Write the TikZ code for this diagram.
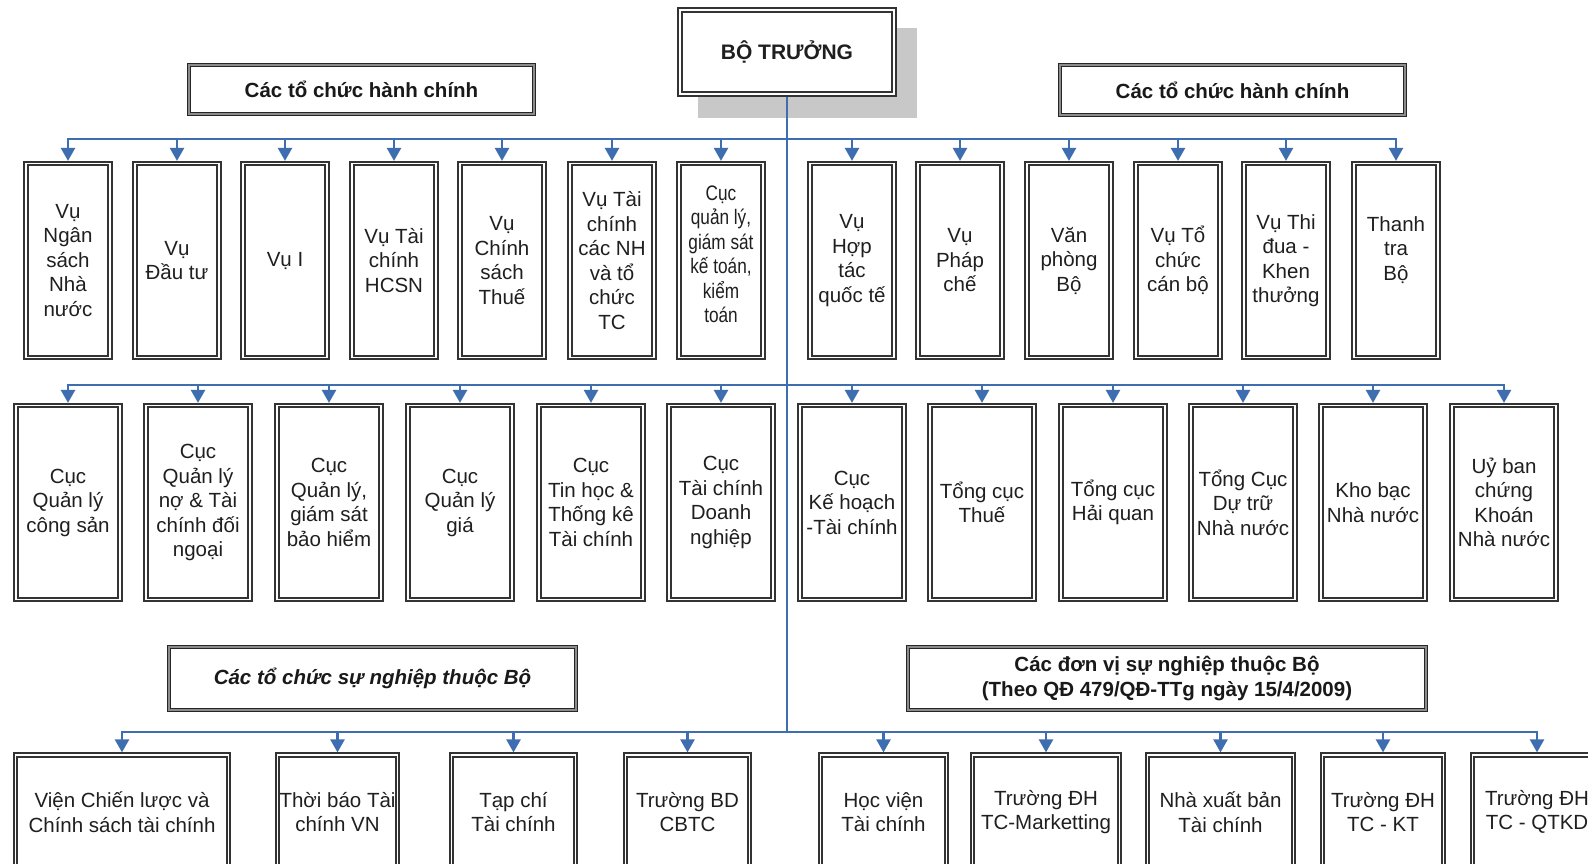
\documentclass[tikz,border=0pt]{standalone}
\usepackage{fontspec}
\setmainfont{Liberation Sans}
\newfontfamily\narrowfont{Liberation Sans}[FakeStretch=0.82]
\usetikzlibrary{arrows.meta}
\definecolor{connc}{HTML}{3E6EB0}
\definecolor{shadowc}{HTML}{C8C8C8}
\begin{document}
\begin{tikzpicture}[x=1pt,y=-1pt,
  box/.style={rectangle, draw=black!80, line width=1.6pt, double=white, double distance=1.9pt,
    fill=white, align=center, inner sep=1pt, outer sep=2.6pt, text=black!88,
    font=\fontsize{20.5}{24.5}\selectfont},
  boxA/.style={box, minimum width=84pt, minimum height=194pt},
  boxB/.style={box, minimum width=104pt, minimum height=194pt},
  boxC/.style={box, minimum height=114pt},
  boss/.style={box, line width=2pt, double distance=2.2pt, minimum width=214pt, minimum height=84pt,
    font=\fontsize{21}{25}\selectfont\bfseries},
  hdr/.style={rectangle, draw=black!85, line width=1.6pt, double=black!45, double distance=1.2pt,
    fill=white, align=center, inner sep=2pt, text=black!90,
    font=\fontsize{20.5}{24.5}\selectfont\bfseries},
  bus/.style={draw=connc, line width=2.4pt},
  arr/.style={draw=connc, line width=2.4pt, -{Triangle[width=14pt,length=13pt]}}
]
\clip (0,0) rectangle (1588,863);
\fill[white] (0,0) rectangle (1588,863);

% shadow of the top box
\fill[shadowc] (698,28) rectangle (917,118);
\node[boss] (boss) at (787,52) {BỘ TRƯỞNG};

% group headers
\node[hdr, minimum width=345pt, minimum height=49pt] (h1) at (361.5,89.5) {Các tổ chức hành chính};
\node[hdr, minimum width=345pt, minimum height=50pt] (h2) at (1232.5,90) {Các tổ chức hành chính};
\node[hdr, minimum width=407pt, minimum height=63pt] (h3) at (372.5,678.5) {\textit{Các tổ chức sự nghiệp thuộc Bộ}};
\node[hdr, minimum width=518pt, minimum height=63pt] (h4) at (1167,678.5) {Các đơn vị sự nghiệp thuộc Bộ\\(Theo QĐ 479/QĐ-TTg ngày 15/4/2009)};

% row 1
\node[boxA] (a1) at (68,260.5) {Vụ\\Ngân\\sách\\Nhà\\nước};
\node[boxA] (a2) at (177,260.5) {Vụ\\Đầu tư};
\node[boxA] (a3) at (285,260.5) {Vụ I};
\node[boxA] (a4) at (394,260.5) {Vụ Tài\\chính\\HCSN};
\node[boxA] (a5) at (502,260.5) {Vụ\\Chính\\sách\\Thuế};
\node[boxA] (a6) at (612,260.5) {Vụ Tài\\chính\\các NH\\và tổ\\chức\\TC};
\node[boxA, font=\fontsize{21}{24.5}\narrowfont] (a7) at (721,260.5) {Cục\\quản lý,\\giám sát\\kế toán,\\kiểm\\toán\\[-12pt]\mbox{}};
\node[boxA] (a8) at (852,260.5) {Vụ\\Hợp\\tác\\quốc tế};
\node[boxA] (a9) at (960,260.5) {Vụ\\Pháp\\chế};
\node[boxA] (a10) at (1069,260.5) {Văn\\phòng\\Bộ};
\node[boxA] (a11) at (1178,260.5) {Vụ Tổ\\chức\\cán bộ};
\node[boxA] (a12) at (1286,260.5) {Vụ Thi\\đua -\\Khen\\thưởng};
\node[boxA] (a13) at (1396,260.5) {Thanh\\tra\\Bộ\\\mbox{}};

% row 2
\node[boxB] (b1) at (68,502.5) {Cục\\Quản lý\\công sản};
\node[boxB] (b2) at (198,502.5) {Cục\\Quản lý\\nợ \& Tài\\chính đối\\ngoại};
\node[boxB] (b3) at (329,502.5) {Cục\\Quản lý,\\giám sát\\bảo hiểm};
\node[boxB] (b4) at (460,502.5) {Cục\\Quản lý\\giá};
\node[boxB] (b5) at (591,502.5) {Cục\\Tin học \&\\Thống kê\\Tài chính};
\node[boxB] (b6) at (721,502.5) {Cục\\Tài chính\\Doanh\\nghiệp};
\node[boxB] (b7) at (852,502.5) {Cục\\Kế hoạch\\-Tài chính};
\node[boxB] (b8) at (982,502.5) {Tổng cục\\Thuế};
\node[boxB] (b9) at (1113,502.5) {Tổng cục\\Hải quan};
\node[boxB] (b10) at (1243,502.5) {Tổng Cục\\Dự trữ\\Nhà nước};
\node[boxB] (b11) at (1373,502.5) {Kho bạc\\Nhà nước};
\node[boxB] (b12) at (1504,502.5) {Uỷ ban\\chứng\\Khoán\\Nhà nước};

% row 3
\node[boxC, minimum width=213pt] (c1) at (122,812) {Viện Chiến lược và\\Chính sách tài chính};
\node[boxC, minimum width=120pt] (c2) at (337.5,812) {Thời báo Tài\\chính VN};
\node[boxC, minimum width=124pt] (c3) at (513.5,812) {Tạp chí\\Tài chính};
\node[boxC, minimum width=124pt] (c4) at (687.5,812) {Trường BD\\CBTC};
\node[boxC, minimum width=126pt] (c5) at (883.5,812) {Học viện\\Tài chính};
\node[boxC, minimum width=147pt] (c6) at (1046,812) {Trường ĐH\\TC-Marketting};
\node[boxC, minimum width=146pt] (c7) at (1220.5,812) {Nhà xuất bản\\Tài chính};
\node[boxC, minimum width=121pt] (c8) at (1383,812) {Trường ĐH\\TC - KT};
\node[boxC, minimum width=129pt] (c9) at (1537,812) {Trường ĐH\\TC - QTKD};

% connectors
\coordinate (j1) at (787,139);
\coordinate (j2) at (787,385);
\coordinate (j3) at (787,732);
\draw[bus] (boss.south) -- (j3);
\foreach \i in {1,...,13} \draw[arr] (j1) -| (a\i.north);
\foreach \i in {1,...,12} \draw[arr] (j2) -| (b\i.north);
\foreach \i in {1,...,9} \draw[arr] (j3) -| (c\i.north);
\end{tikzpicture}
\end{document}
